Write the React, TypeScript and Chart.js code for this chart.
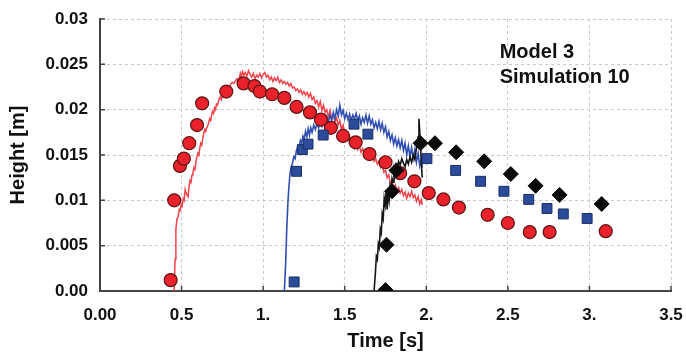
import React, { useEffect, useRef } from "react";
import { Chart, registerables } from "chart.js";

Chart.register(...registerables);

const xTickValues = [0, 0.5, 1, 1.5, 2, 2.5, 3, 3.5];
const xTickLabels = ["0.00", "0.5", "1.", "1.5", "2.", "2.5", "3.", "3.5"];
const yTickValues = [0, 0.005, 0.01, 0.015, 0.02, 0.025, 0.03];
const yTickLabels = ["0.00", "0.005", "0.01", "0.015", "0.02", "0.025", "0.03"];

const xTitle = "Time [s]";
const yTitle = "Height [m]";
const noteLines = ["Model 3", "Simulation 10"];

// Measured points (red circles)
const redPointsT = [0.433, 0.455, 0.49, 0.514, 0.547, 0.595, 0.626, 0.774, 0.88, 0.947, 0.98, 1.055, 1.13, 1.205, 1.287, 1.354, 1.415, 1.49, 1.567, 1.652, 1.75, 1.84, 1.927, 2.015, 2.105, 2.2, 2.376, 2.5, 2.634, 2.756, 3.1];
const redPointsH = [0.0012, 0.01, 0.0138, 0.0146, 0.0163, 0.0183, 0.0207, 0.022, 0.0229, 0.0226, 0.022, 0.0217, 0.0213, 0.0203, 0.0197, 0.0189, 0.018, 0.0171, 0.0164, 0.0151, 0.0142, 0.013, 0.0121, 0.0108, 0.0101, 0.0092, 0.0084, 0.0075, 0.0065, 0.0065, 0.0066];

// Blue squares
const bluePointsT = [1.19, 1.205, 1.24, 1.275, 1.368, 1.557, 1.642, 2.004, 2.18, 2.333, 2.476, 2.628, 2.74, 2.84, 2.986];
const bluePointsH = [0.001, 0.0132, 0.0156, 0.0162, 0.0172, 0.0184, 0.0173, 0.0146, 0.0133, 0.0121, 0.011, 0.0101, 0.0091, 0.0085, 0.008];

// Black diamonds
const blackPointsT = [1.75, 1.756, 1.79, 1.817, 1.965, 2.053, 2.183, 2.355, 2.518, 2.67, 2.817, 3.075];
const blackPointsH = [0.0001, 0.0051, 0.011, 0.0133, 0.0163, 0.0163, 0.0153, 0.0143, 0.0129, 0.0116, 0.0106, 0.0096];

// Simulated traces
const redLineT = [0.455, 0.46, 0.465, 0.472, 0.48, 0.486, 0.492, 0.498, 0.504, 0.51, 0.516, 0.522, 0.528, 0.534, 0.54, 0.546, 0.552, 0.558, 0.564, 0.57, 0.576, 0.582, 0.588, 0.594, 0.6, 0.606, 0.612, 0.618, 0.624, 0.63, 0.636, 0.642, 0.648, 0.654, 0.66, 0.666, 0.672, 0.678, 0.684, 0.69, 0.696, 0.702, 0.708, 0.714, 0.72, 0.728, 0.736, 0.744, 0.752, 0.76, 0.768, 0.776, 0.784, 0.792, 0.8, 0.81, 0.82, 0.83, 0.84, 0.85, 0.86, 0.866, 0.874, 0.882, 0.89, 0.9, 0.91, 0.92, 0.93, 0.94, 0.95, 0.96, 0.97, 0.98, 0.99, 1.0, 1.01, 1.02, 1.03, 1.04, 1.05, 1.06, 1.07, 1.08, 1.09, 1.1, 1.11, 1.12, 1.13, 1.14, 1.15, 1.16, 1.17, 1.18, 1.19, 1.2, 1.21, 1.22, 1.23, 1.24, 1.25, 1.26, 1.27, 1.28, 1.29, 1.3, 1.31, 1.32, 1.33, 1.34, 1.35, 1.36, 1.37, 1.38, 1.39, 1.4, 1.41, 1.42, 1.43, 1.44, 1.45, 1.46, 1.47, 1.48, 1.49, 1.5, 1.51, 1.52, 1.53, 1.54, 1.55, 1.56, 1.57, 1.58, 1.59, 1.6, 1.61, 1.62, 1.63, 1.64, 1.65, 1.66, 1.67, 1.68, 1.69, 1.7, 1.71, 1.72, 1.73, 1.74, 1.75, 1.76, 1.77, 1.78, 1.79, 1.8, 1.81, 1.82, 1.83, 1.84, 1.85, 1.86, 1.87, 1.88, 1.89, 1.9, 1.91, 1.92, 1.93, 1.94, 1.95, 1.96, 1.97, 1.975];
const redLineH = [0.0, 0.0035, 0.0068, 0.008, 0.0082, 0.009, 0.0089, 0.0096, 0.0094, 0.0102, 0.01, 0.0112, 0.0108, 0.0106, 0.0104, 0.0116, 0.0122, 0.012, 0.0128, 0.0131, 0.0136, 0.0134, 0.0143, 0.0148, 0.0152, 0.015, 0.0158, 0.0163, 0.0161, 0.0168, 0.0174, 0.0178, 0.0176, 0.018, 0.0182, 0.0186, 0.019, 0.0188, 0.0194, 0.0198, 0.0196, 0.0202, 0.02, 0.0206, 0.0205, 0.021, 0.0214, 0.0211, 0.0217, 0.0219, 0.0222, 0.022, 0.0226, 0.0224, 0.0228, 0.023, 0.0229, 0.0232, 0.0234, 0.0231, 0.024, 0.0236, 0.0242, 0.0238, 0.0241, 0.0237, 0.0243, 0.0239, 0.0236, 0.024, 0.0234, 0.0238, 0.0236, 0.024, 0.0235, 0.0239, 0.0241, 0.0236, 0.0238, 0.0233, 0.0236, 0.0231, 0.0235, 0.0232, 0.0236, 0.023, 0.0233, 0.0229, 0.0231, 0.0228, 0.023, 0.0226, 0.0229, 0.0224, 0.0225, 0.0221, 0.0223, 0.0219, 0.0222, 0.0217, 0.022, 0.0216, 0.0219, 0.0214, 0.0218, 0.0211, 0.0214, 0.0207, 0.021, 0.0203, 0.0209, 0.0199, 0.0205, 0.0197, 0.02, 0.0192, 0.0199, 0.019, 0.0195, 0.0186, 0.0191, 0.0183, 0.0188, 0.0178, 0.0183, 0.0172, 0.0176, 0.0167, 0.0171, 0.0162, 0.0166, 0.0158, 0.0163, 0.0156, 0.016, 0.0153, 0.0157, 0.0151, 0.0154, 0.0148, 0.0152, 0.0146, 0.0149, 0.0143, 0.0146, 0.014, 0.0143, 0.0136, 0.0139, 0.0131, 0.0133, 0.0125, 0.0128, 0.0118, 0.0122, 0.0113, 0.0117, 0.011, 0.0114, 0.0108, 0.0112, 0.0105, 0.0109, 0.0102, 0.0108, 0.0104, 0.011, 0.0103, 0.0106, 0.0099, 0.0104, 0.0096, 0.0101, 0.0095];

const blueLineT = [1.13, 1.138, 1.145, 1.152, 1.158, 1.165, 1.172, 1.18, 1.188, 1.196, 1.204, 1.212, 1.22, 1.228, 1.236, 1.244, 1.252, 1.26, 1.268, 1.276, 1.284, 1.292, 1.3, 1.31, 1.32, 1.33, 1.34, 1.35, 1.36, 1.37, 1.38, 1.39, 1.4, 1.41, 1.42, 1.43, 1.44, 1.45, 1.46, 1.47, 1.48, 1.49, 1.5, 1.51, 1.52, 1.53, 1.54, 1.55, 1.56, 1.57, 1.58, 1.59, 1.6, 1.61, 1.62, 1.63, 1.64, 1.65, 1.66, 1.67, 1.68, 1.69, 1.7, 1.71, 1.72, 1.73, 1.74, 1.75, 1.76, 1.77, 1.78, 1.79, 1.8, 1.81, 1.82, 1.83, 1.84, 1.85, 1.86, 1.87, 1.88, 1.89, 1.9, 1.91, 1.92, 1.93, 1.94, 1.95, 1.96, 1.97, 1.975];
const blueLineH = [0.0, 0.003, 0.007, 0.0098, 0.0115, 0.013, 0.0137, 0.0141, 0.0148, 0.0146, 0.0155, 0.0159, 0.0157, 0.0166, 0.0163, 0.0171, 0.0168, 0.0176, 0.017, 0.0179, 0.0172, 0.018, 0.0175, 0.0183, 0.0178, 0.0185, 0.018, 0.0188, 0.0182, 0.019, 0.0184, 0.0192, 0.0186, 0.0194, 0.0188, 0.0197, 0.019, 0.02, 0.0193, 0.0205, 0.0194, 0.0199, 0.019, 0.0196, 0.0189, 0.0195, 0.0188, 0.0194, 0.019, 0.0196, 0.0188, 0.0193, 0.0184, 0.0191, 0.0186, 0.0194, 0.0185, 0.0193, 0.0184, 0.0189, 0.018, 0.0186, 0.0179, 0.0187, 0.0178, 0.0185, 0.0175, 0.0181, 0.017, 0.0176, 0.0166, 0.0172, 0.0162, 0.0169, 0.016, 0.0167, 0.0158, 0.0166, 0.0155, 0.0163, 0.015, 0.016, 0.0148, 0.0158, 0.0146, 0.0156, 0.0142, 0.0152, 0.0138, 0.0146, 0.0136];

const blackLineT = [1.68, 1.688, 1.694, 1.7, 1.706, 1.712, 1.718, 1.724, 1.73, 1.736, 1.742, 1.748, 1.754, 1.76, 1.766, 1.772, 1.778, 1.784, 1.79, 1.796, 1.802, 1.808, 1.814, 1.82, 1.83, 1.84, 1.85, 1.86, 1.87, 1.88, 1.89, 1.9, 1.91, 1.92, 1.93, 1.94, 1.95, 1.955, 1.96, 1.965, 1.97, 1.975];
const blackLineH = [0.0, 0.002, 0.0038, 0.0035, 0.0052, 0.0048, 0.0068, 0.0064, 0.0085, 0.008, 0.0102, 0.0095, 0.011, 0.009, 0.0108, 0.01, 0.0116, 0.0112, 0.0124, 0.012, 0.0133, 0.0128, 0.0138, 0.0134, 0.0143, 0.0139, 0.0146, 0.0141, 0.0137, 0.0145, 0.014, 0.0148, 0.0142, 0.015, 0.0145, 0.0158, 0.017, 0.019, 0.0175, 0.016, 0.014, 0.0125];

const zip = (t: number[], h: number[]) => t.map((v, i) => ({ x: v, y: h[i] }));

const FONT = "'Liberation Sans', Arial, sans-serif";
const AXIS_COLOR = "#444444";

const innerTicks = {
  id: "innerTicks",
  afterDraw(chart: any) {
    const { ctx, chartArea, scales } = chart;
    ctx.save();
    ctx.strokeStyle = AXIS_COLOR;
    ctx.lineWidth = 1.5;
    ctx.beginPath();
    for (const v of xTickValues) {
      const px = scales.x.getPixelForValue(v);
      ctx.moveTo(px, chartArea.bottom);
      ctx.lineTo(px, chartArea.bottom - 5);
    }
    for (const v of yTickValues) {
      const py = scales.y.getPixelForValue(v);
      ctx.moveTo(chartArea.left, py);
      ctx.lineTo(chartArea.left + 5, py);
    }
    ctx.stroke();
    // annotation
    ctx.fillStyle = "#111111";
    ctx.font = `bold 20px ${FONT}`;
    ctx.textAlign = "left";
    ctx.textBaseline = "alphabetic";
    const ax = scales.x.getPixelForValue(2.45);
    const ay = scales.y.getPixelForValue(0.0257);
    noteLines.forEach((line, i) => ctx.fillText(line, ax, ay + i * 25));
    ctx.restore();
  },
};

export default function App() {
  const ref = useRef<HTMLCanvasElement | null>(null);

  useEffect(() => {
    if (!ref.current) return;
    const chart = new Chart(ref.current, {
      type: "scatter",
      data: {
        datasets: [
          {
            label: "black pts",
            data: zip(blackPointsT, blackPointsH),
            pointStyle: "rectRot",
            pointRadius: 7.5,
            backgroundColor: "#0a0a0a",
            borderColor: "#0a0a0a",
            borderWidth: 1,
            showLine: false,
            order: 0,
          },
          {
            label: "blue pts",
            data: zip(bluePointsT, bluePointsH),
            pointStyle: "rect",
            pointRadius: 7,
            backgroundColor: "#2b4c9b",
            borderColor: "#1a2d63",
            borderWidth: 1,
            showLine: false,
            order: 1,
          },
          {
            label: "red pts",
            data: zip(redPointsT, redPointsH),
            pointStyle: "circle",
            pointRadius: 6.5,
            backgroundColor: "#e8212a",
            borderColor: "#5c1414",
            borderWidth: 1.2,
            showLine: false,
            order: 2,
          },
          {
            label: "black line",
            data: zip(blackLineT, blackLineH),
            showLine: true,
            pointRadius: 0,
            borderColor: "#151515",
            borderWidth: 1.6,
            order: 3,
          },
          {
            label: "blue line",
            data: zip(blueLineT, blueLineH),
            showLine: true,
            pointRadius: 0,
            borderColor: "#2f50b0",
            borderWidth: 1.6,
            order: 4,
          },
          {
            label: "red line",
            data: zip(redLineT, redLineH),
            showLine: true,
            pointRadius: 0,
            borderColor: "#f0434a",
            borderWidth: 1.5,
            order: 5,
          },
        ],
      },
      options: {
        responsive: false,
        animation: false,
        events: [],
        layout: { padding: { left: 0, top: 19, right: 15, bottom: 0 } },
        plugins: {
          legend: { display: false },
          tooltip: { enabled: false },
        },
        scales: {
          x: {
            type: "linear",
            min: 0,
            max: 3.5,
            afterBuildTicks: (s: any) => {
              s.ticks = xTickValues.map((v) => ({ value: v }));
            },
            afterFit: (s: any) => {
              s.height = 63;
              s.paddingLeft = 0;
              s.paddingRight = 0;
            },
            ticks: {
              autoSkip: false,
              maxRotation: 0,
              padding: 14,
              color: "#111111",
              font: { family: FONT, size: 17, weight: "bold" },
              callback: (_v: any, i: number) => xTickLabels[i],
            },
            grid: { color: "#c9c9c9", lineWidth: 1, drawTicks: false },
            border: { display: true, color: AXIS_COLOR, width: 2, dash: [3, 3] },
            title: {
              display: true,
              text: xTitle,
              color: "#111111",
              font: { family: FONT, size: 20, weight: "bold" },
              padding: { top: 0, bottom: 1 },
            },
          },
          y: {
            type: "linear",
            min: 0,
            max: 0.03,
            afterBuildTicks: (s: any) => {
              s.ticks = yTickValues.map((v) => ({ value: v }));
            },
            afterFit: (s: any) => {
              s.width = 100;
              s.paddingTop = 0;
              s.paddingBottom = 0;
            },
            ticks: {
              autoSkip: false,
              padding: 12,
              color: "#111111",
              font: { family: FONT, size: 17, weight: "bold" },
              callback: (_v: any, i: number) => yTickLabels[i],
            },
            grid: { color: "#c9c9c9", lineWidth: 1, drawTicks: false },
            border: { display: true, color: AXIS_COLOR, width: 2, dash: [3, 3] },
            title: {
              display: true,
              text: yTitle,
              color: "#111111",
              font: { family: FONT, size: 20, weight: "bold" },
              padding: { top: 6, bottom: 0 },
            },
          },
        },
      },
      plugins: [innerTicks],
    });
    return () => chart.destroy();
  }, []);

  return (
    <div style={{ position: "fixed", left: 0, top: 0, width: 686, height: 354, background: "#ffffff" }}>
      <canvas ref={ref} width={686} height={354} style={{ display: "block" }} />
    </div>
  );
}
